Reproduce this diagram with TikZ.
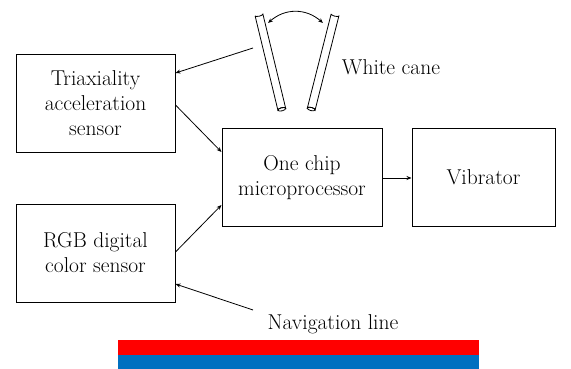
\documentclass[tikz,border=0pt]{standalone}
\usetikzlibrary{arrows.meta}
\definecolor{navred}{RGB}{255,0,0}
\definecolor{navblue}{RGB}{0,112,192}
\tikzset{
  blk/.style={draw, line width=1pt, inner sep=0pt, align=center, font=\fontsize{21.5}{25}\selectfont},
  lbl/.style={inner sep=0pt, font=\fontsize{21.5}{25}\selectfont},
  conn/.style={line width=0.8pt, -{Stealth[length=5pt,width=4pt]}},
  rod/.style={line width=0.8pt}
}
\begin{document}
\begin{tikzpicture}[x=1pt,y=-1pt]
\useasboundingbox (0,0) rectangle (571,369);
\fill[white] (0,0) rectangle (571,369);
% boxes
\node[blk, minimum width=159pt, minimum height=97pt] (tri) at (95.5,103.5) {Triaxiality\\acceleration\\sensor};
\node[blk, minimum width=159pt, minimum height=98pt] (rgb) at (95.5,253) {RGB digital\\color sensor};
\node[blk, minimum width=160pt, minimum height=97pt] (mcu) at (302,177.5) {One chip\\microprocessor};
\node[blk, minimum width=143pt, minimum height=97pt] (vib) at (483.5,177.5) {Vibrator};
% labels
\node[lbl] (cane) at (391,67) {White cane};
\node[lbl] (nav) at (333,324) {Navigation line};
% cane rods
\begin{scope}[shift={(259,15)}, rotate=13.6]
  \draw[rod, fill=white] (-4,0) -- (-4,97) arc[start angle=180, end angle=360, x radius=4, y radius=1.6] -- (4,0) arc[start angle=0, end angle=180, x radius=4, y radius=1.2];
  \draw[rod] (0,97) ellipse[x radius=4, y radius=1.6];
\end{scope}
\begin{scope}[shift={(335,15)}, rotate=-14.2]
  \draw[rod, fill=white] (-4,0) -- (-4,97) arc[start angle=180, end angle=360, x radius=4, y radius=1.6] -- (4,0) arc[start angle=0, end angle=180, x radius=4, y radius=1.2];
  \draw[rod] (0,97) ellipse[x radius=4, y radius=1.6];
\end{scope}
\coordinate (swL) at (268,23);
\coordinate (swR) at (323,23);
\draw[line width=0.8pt, {Stealth[length=5pt,width=4pt]}-{Stealth[length=5pt,width=4pt]}] (swL) .. controls (285,8) and (306,8) .. (swR);
% connectors
\coordinate (caneEnd) at (253,48);
\coordinate (navEnd) at (253,310);
\draw[conn] (caneEnd) -- (tri.east |- 0,73);
\draw[conn] (tri.east |- 0,105) -- (mcu.west |- 0,152);
\draw[conn] (rgb.east |- 0,252) -- (mcu.west |- 0,205);
\draw[conn] (navEnd) -- (rgb.east |- 0,284);
\draw[conn] (mcu.east |- 0,178) -- (vib.west |- 0,178);
% navigation line bars
\fill[navred] (118,340) rectangle (479,355);
\fill[navblue] (118,355) rectangle (479,369);
\end{tikzpicture}
\end{document}
